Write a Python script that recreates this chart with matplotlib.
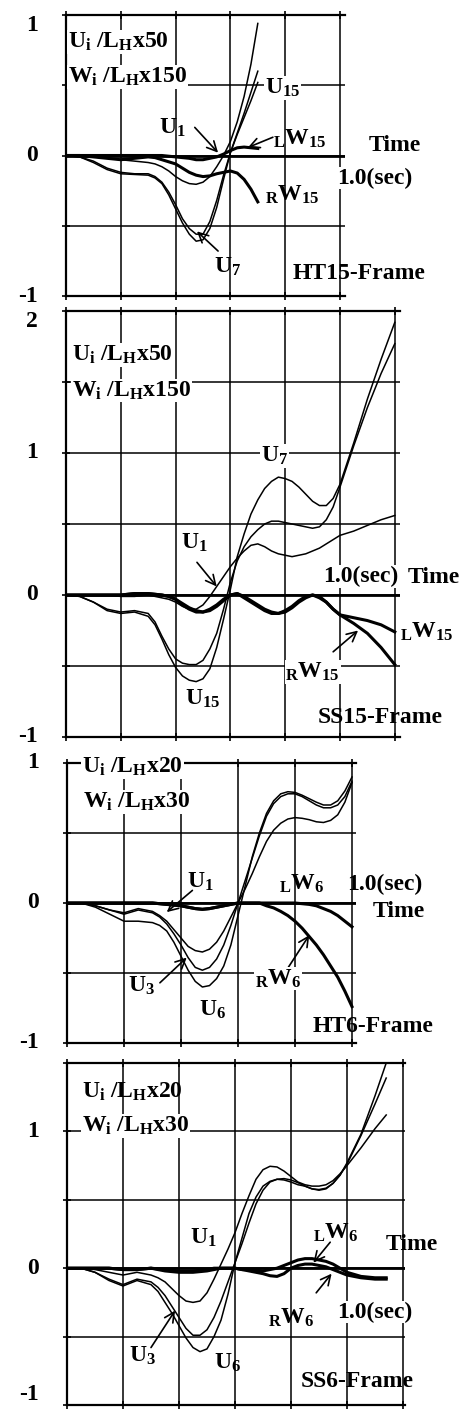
import matplotlib
matplotlib.use('Agg')
import matplotlib.pyplot as plt
import numpy as np

plt.rcParams['font.family'] = ['Liberation Serif', 'DejaVu Serif']
plt.rcParams['font.weight'] = 'bold'
plt.rcParams['mathtext.fontset'] = 'custom'
plt.rcParams['mathtext.rm'] = 'Liberation Serif:bold'
plt.rcParams['mathtext.bf'] = 'Liberation Serif:bold'
plt.rcParams['mathtext.it'] = 'Liberation Serif:bold'
plt.rcParams['mathtext.default'] = 'bf'

# ---- HT15-Frame ----
t_ht15 = [0, .05, .1, .15, .2, .25, .3, .325, .35, .375, .4, .425, .45, .475, .5, .525, .55, .575, .6, .625, .65, .675, .7]
u1_ht15 = [0, 0, -0.01, -0.02, -0.03, -0.04, -0.05, -0.06, -0.08, -0.11, -0.15, -0.18, -0.2, -0.205, -0.19, -0.15, -0.08, 0.0, 0.1, 0.24, 0.42, 0.65, 0.94]
u7_ht15 = [0, -0.01, -0.05, -0.1, -0.13, -0.135, -0.14, -0.16, -0.2, -0.28, -0.38, -0.48, -0.56, -0.61, -0.6, -0.52, -0.37, -0.17, 0.02, 0.15, 0.27, 0.39, 0.52]
u15_ht15 = [0, -0.01, -0.04, -0.09, -0.12, -0.13, -0.13, -0.15, -0.19, -0.26, -0.35, -0.45, -0.52, -0.56, -0.56, -0.47, -0.32, -0.14, 0.02, 0.16, 0.3, 0.45, 0.6]
lw15_ht15 = [0, 0, 0, 0, 0, 0, 0, 0, 0, -0.005, -0.01, -0.015, -0.02, -0.03, -0.03, -0.02, -0.01, 0.01, 0.035, 0.055, 0.06, 0.055, 0.05]
rw15_ht15 = [0, 0, -0.01, -0.02, -0.03, -0.02, -0.01, -0.015, -0.03, -0.045, -0.06, -0.09, -0.12, -0.14, -0.15, -0.145, -0.13, -0.12, -0.11, -0.125, -0.17, -0.24, -0.33]

# ---- SS15-Frame ----
t_ss15 = [0, .05, .1, .15, .2, .25, .3, .325, .35, .375, .4, .425, .45, .475, .5, .525, .55, .575, .6, .625,
          .65, .675, .7, .725, .75, .775, .8, .825, .85, .875, .9, .925, .95, .975, 1.0, 1.05, 1.1, 1.15, 1.2]
u1_ss15 = [0, 0, 0, 0, -0.01, -0.01, 0, -0.01, -0.02, -0.03, -0.05, -0.08, -0.1, -0.1, -0.07, -0.01, 0.06, 0.13, 0.2, 0.26,
           0.31, 0.35, 0.36, 0.34, 0.31, 0.29, 0.28, 0.27, 0.28, 0.29, 0.31, 0.33, 0.36, 0.39, 0.42, 0.45, 0.49, 0.53, 0.56]
u7_ss15 = [0, -0.01, -0.05, -0.1, -0.12, -0.11, -0.13, -0.19, -0.29, -0.38, -0.45, -0.48, -0.49, -0.49, -0.46, -0.38, -0.27, -0.1, 0.09, 0.24,
           0.34, 0.41, 0.46, 0.5, 0.52, 0.52, 0.51, 0.5, 0.49, 0.48, 0.47, 0.48, 0.53, 0.62, 0.76, 1.05, 1.32, 1.56, 1.77]
u15_ss15 = [0, -0.01, -0.05, -0.11, -0.13, -0.12, -0.15, -0.21, -0.31, -0.42, -0.51, -0.57, -0.6, -0.61, -0.59, -0.52, -0.37, -0.17, 0.04, 0.27,
            0.43, 0.57, 0.67, 0.75, 0.8, 0.83, 0.82, 0.8, 0.76, 0.71, 0.66, 0.63, 0.63, 0.68, 0.78, 1.07, 1.38, 1.66, 1.92]
lw15_ss15 = [0, 0, 0, 0, 0, 0.01, 0.01, 0.005, 0, -0.01, -0.03, -0.07, -0.1, -0.12, -0.12, -0.1, -0.07, -0.03, 0.0, 0.01,
             -0.01, -0.04, -0.07, -0.1, -0.12, -0.13, -0.12, -0.09, -0.05, -0.02, 0.0, -0.01, -0.05, -0.1, -0.14, -0.16, -0.18, -0.21, -0.26]
rw15_ss15 = [0, 0, 0, 0, 0, 0.01, 0.01, 0.005, 0, -0.01, -0.03, -0.06, -0.09, -0.11, -0.12, -0.11, -0.08, -0.04, 0.0, 0.01,
             -0.02, -0.05, -0.08, -0.11, -0.13, -0.13, -0.11, -0.08, -0.04, -0.01, 0.0, -0.02, -0.05, -0.1, -0.14, -0.2, -0.27, -0.37, -0.49]

# ---- HT6-Frame ----
t_ht6 = [0, .05, .1, .15, .2, .25, .3, .325, .35, .375, .4, .425, .45, .475, .5, .525, .55, .575,
         .6, .625, .65, .675, .7, .725, .75, .775, .8, .825, .85, .875, .9, .925, .95, .975, 1.0]
u1_ht6 = [0, 0, -0.02, -0.05, -0.07, -0.04, -0.06, -0.09, -0.13, -0.19, -0.25, -0.31, -0.34, -0.35, -0.33, -0.28, -0.2, -0.1,
          0.0, 0.1, 0.21, 0.33, 0.44, 0.52, 0.57, 0.6, 0.61, 0.605, 0.595, 0.58, 0.575, 0.59, 0.63, 0.72, 0.86]
u3_ht6 = [0, 0, -0.02, -0.05, -0.08, -0.05, -0.07, -0.1, -0.15, -0.22, -0.3, -0.39, -0.46, -0.48, -0.46, -0.4, -0.3, -0.16,
          0.0, 0.16, 0.32, 0.48, 0.62, 0.71, 0.76, 0.78, 0.78, 0.76, 0.73, 0.7, 0.68, 0.68, 0.7, 0.76, 0.87]
u6_ht6 = [0, 0, -0.03, -0.08, -0.13, -0.13, -0.14, -0.16, -0.2, -0.28, -0.38, -0.48, -0.56, -0.6, -0.59, -0.54, -0.45, -0.3,
          -0.09, 0.12, 0.33, 0.5, 0.64, 0.73, 0.78, 0.795, 0.79, 0.77, 0.745, 0.72, 0.7, 0.7, 0.73, 0.8, 0.9]
lw6_ht6 = [0, 0, 0, 0, 0, 0, 0, -0.005, -0.01, -0.015, -0.02, -0.03, -0.04, -0.045, -0.04, -0.03, -0.02, -0.01,
           0, 0, 0, 0, 0, 0, 0, 0, 0, -0.005, -0.01, -0.02, -0.04, -0.06, -0.09, -0.13, -0.17]
rw6_ht6 = [0, 0, 0, 0, 0, 0, 0, -0.005, -0.01, -0.015, -0.02, -0.03, -0.04, -0.045, -0.04, -0.03, -0.02, -0.01,
           0, 0, 0, 0, -0.02, -0.035, -0.06, -0.09, -0.13, -0.18, -0.24, -0.3, -0.37, -0.45, -0.53, -0.63, -0.74]

# ---- SS6-Frame ----
t_ss6 = [0, .05, .1, .15, .2, .25, .3, .325, .35, .375, .4, .425, .45, .475, .5, .525, .55, .575, .6,
         .625, .65, .675, .7, .725, .75, .775, .8, .825, .85, .875, .9, .925, .95, .975, 1.0, 1.05, 1.1, 1.14]
u1_ss6 = [0, 0, -0.01, -0.03, -0.05, -0.03, -0.05, -0.07, -0.1, -0.15, -0.2, -0.24, -0.25, -0.24, -0.18, -0.08, 0.03, 0.14, 0.26,
          0.4, 0.53, 0.65, 0.72, 0.745, 0.74, 0.71, 0.67, 0.63, 0.61, 0.6, 0.6, 0.61, 0.64, 0.69, 0.75, 0.88, 1.02, 1.12]
u3_ss6 = [0, 0, -0.03, -0.08, -0.12, -0.08, -0.1, -0.14, -0.2, -0.28, -0.36, -0.44, -0.49, -0.49, -0.45, -0.36, -0.24, -0.1, 0.04,
          0.18, 0.33, 0.47, 0.57, 0.63, 0.65, 0.655, 0.645, 0.625, 0.6, 0.58, 0.57, 0.58, 0.62, 0.68, 0.76, 0.97, 1.2, 1.39]
u6_ss6 = [0, 0, -0.03, -0.09, -0.13, -0.09, -0.12, -0.17, -0.25, -0.33, -0.42, -0.51, -0.58, -0.61, -0.59, -0.5, -0.38, -0.19, 0.04,
          0.22, 0.4, 0.52, 0.6, 0.635, 0.65, 0.645, 0.63, 0.61, 0.6, 0.58, 0.575, 0.585, 0.62, 0.68, 0.77, 0.98, 1.26, 1.5]
lw6_ss6 = [0, 0, 0, 0, -0.01, -0.01, 0, -0.005, -0.01, -0.015, -0.02, -0.02, -0.02, -0.015, -0.01, 0, 0, 0, 0,
           -0.01, -0.01, -0.015, -0.02, -0.01, 0.0, 0.02, 0.04, 0.06, 0.07, 0.07, 0.06, 0.05, 0.03, 0.0, -0.03, -0.06, -0.07, -0.07]
rw6_ss6 = [0, 0, 0, 0, -0.01, -0.01, 0, -0.01, -0.02, -0.025, -0.03, -0.03, -0.03, -0.025, -0.02, -0.01, 0, 0, 0,
           -0.01, -0.02, -0.03, -0.04, -0.055, -0.06, -0.04, 0, 0.02, 0.03, 0.03, 0.02, 0.01, -0.01, -0.03, -0.05, -0.07, -0.08, -0.08]

W, H = 471, 1410
fig = plt.figure(figsize=(W / 100, H / 100), dpi=100)
FS = 17


def add_panel(left, top, right, bottom):
    return fig.add_axes([left / W, 1 - bottom / H, (right - left) / W, (bottom - top) / H])


def frame(ax, tmax, xend, ylo, yhi, ylabels, top_va='center', bottom_va='center'):
    ax.set_xlim(0, xend)
    ax.set_ylim(ylo, yhi)
    ax.set_xticks(np.arange(0, tmax + 0.01, 0.2))
    ax.set_yticks(np.arange(ylo, yhi + 0.01, 0.5))
    ax.grid(True, color='black', lw=1.1)
    ax.set_axisbelow(True)
    ax.spines['right'].set_visible(False)
    for s in ['left', 'top', 'bottom']:
        ax.spines[s].set_linewidth(1.6)
    ax.tick_params(direction='inout', length=6, width=1.2, top=True,
                   labelbottom=False, labelleft=False)
    ax.axhline(0, color='black', lw=2.0, zorder=1)
    for v in ylabels:
        va = 'center'
        if v == yhi:
            va = top_va
        if v == ylo:
            va = bottom_va
        ax.annotate(str(v), xy=(0, v), xycoords=ax.get_yaxis_transform(),
                    xytext=(-28, 0), textcoords='offset pixels',
                    ha='right', va=va, fontsize=FS, annotation_clip=False)


def label(ax, x, y, s, bg=False, ha='center', fs=FS):
    kw = {}
    if bg:
        kw['bbox'] = dict(fc='white', ec='none', pad=0.5)
    ax.text(x, y, s, ha=ha, va='center', fontsize=fs, clip_on=False, zorder=5, **kw)


def arrow(ax, start, tip):
    ax.annotate('', xy=tip, xytext=start, annotation_clip=False,
                arrowprops=dict(arrowstyle='->,head_length=0.7,head_width=0.35',
                                lw=1.2, color='black', shrinkA=0, shrinkB=0))


def curves(ax, t, thin, thick):
    for v in thin:
        ax.plot(t, v, color='black', lw=1.1, zorder=2, solid_joinstyle='round')
    for v in thick:
        ax.plot(t, v, color='black', lw=2.2, zorder=2, solid_joinstyle='round')


# panel 1: HT15
ax1 = add_panel(66, 15, 345, 296)
frame(ax1, 1.0, 279 / 274, -1, 1, [1, 0, -1], top_va='top')
curves(ax1, t_ht15, [u1_ht15, u7_ht15, u15_ht15], [lw15_ht15, rw15_ht15])
label(ax1, 0.007, 0.81, r'U$_{i}$ /L$_{H}$x50', bg=True, ha='left')
label(ax1, 0.007, 0.56, r'W$_{i}$ /L$_{H}$x150', bg=True, ha='left')
label(ax1, 0.79, 0.48, r'U$_{15}$', bg=True)
label(ax1, 0.39, 0.2, r'U$_{1}$')
arrow(ax1, (0.47, 0.2), (0.555, 0.02))
label(ax1, 0.855, 0.12, r'$_{L}$W$_{15}$')
arrow(ax1, (0.755, 0.13), (0.664, 0.057))
label(ax1, 1.2, 0.07, 'Time')
label(ax1, 1.128, -0.16, '1.0(sec)', bg=True)
label(ax1, 0.825, -0.28, r'$_{R}$W$_{15}$')
label(ax1, 0.59, -0.79, r'U$_{7}$')
arrow(ax1, (0.555, -0.68), (0.478, -0.54))
label(ax1, 1.07, -0.84, 'HT15-Frame')

# panel 2: SS15
ax2 = add_panel(66, 311, 400, 737)
frame(ax2, 1.2, 334 / 274, -1, 2, [2, 1, 0, -1], top_va='top')
curves(ax2, t_ss15, [u1_ss15, u7_ss15, u15_ss15], [lw15_ss15, rw15_ss15])
label(ax2, 0.022, 1.69, r'U$_{i}$ /L$_{H}$x50', bg=True, ha='left')
label(ax2, 0.022, 1.44, r'W$_{i}$ /L$_{H}$x150', bg=True, ha='left')
label(ax2, 0.76, 0.98, r'U$_{7}$', bg=True)
label(ax2, 0.47, 0.37, r'U$_{1}$')
arrow(ax2, (0.478, 0.23), (0.55, 0.06))
label(ax2, 1.077, 0.13, '1.0(sec)', bg=True)
label(ax2, 1.343, 0.12, 'Time')
label(ax2, 1.317, -0.26, r'$_{L}$W$_{15}$')
label(ax2, 0.9, -0.54, r'$_{R}$W$_{15}$', bg=True)
arrow(ax2, (0.975, -0.4), (1.066, -0.25))
label(ax2, 0.5, -0.73, r'U$_{15}$')
label(ax2, 1.146, -0.86, 'SS15-Frame')

# panel 3: HT6
ax3 = add_panel(67, 763, 356, 1043)
frame(ax3, 1.0, 289 / 285, -1, 1, [1, 0, -1])
curves(ax3, t_ht6, [u1_ht6, u3_ht6, u6_ht6], [lw6_ht6, rw6_ht6])
label(ax3, 0.053, 0.97, r'U$_{i}$ /L$_{H}$x20', bg=True, ha='left')
label(ax3, 0.056, 0.72, r'W$_{i}$ /L$_{H}$x30', bg=True, ha='left')
label(ax3, 0.467, 0.15, r'U$_{1}$')
arrow(ax3, (0.44, 0.09), (0.35, -0.065))
label(ax3, 0.825, 0.135, r'$_{L}$W$_{6}$')
label(ax3, 1.116, 0.13, '1.0(sec)')
label(ax3, 1.165, -0.06, 'Time')
label(ax3, 0.263, -0.59, r'U$_{3}$', bg=True)
arrow(ax3, (0.326, -0.57), (0.42, -0.39))
label(ax3, 0.51, -0.76, r'U$_{6}$')
label(ax3, 0.74, -0.54, r'$_{R}$W$_{6}$', bg=True)
arrow(ax3, (0.77, -0.48), (0.85, -0.23))
label(ax3, 1.075, -0.88, 'HT6-Frame')

# panel 4: SS6
ax4 = add_panel(67, 1063, 405, 1405)
frame(ax4, 1.2, 338 / 280, -1, 1.5, [1, 0, -1], bottom_va='bottom')
curves(ax4, t_ss6, [u1_ss6, u3_ss6, u6_ss6], [lw6_ss6, rw6_ss6])
label(ax4, 0.054, 1.29, r'U$_{i}$ /L$_{H}$x20', ha='left')
label(ax4, 0.054, 1.04, r'W$_{i}$ /L$_{H}$x30', bg=True, ha='left')
label(ax4, 0.486, 0.22, r'U$_{1}$')
label(ax4, 0.96, 0.26, r'$_{L}$W$_{6}$')
arrow(ax4, (0.94, 0.19), (0.88, 0.04))
label(ax4, 1.232, 0.175, 'Time')
label(ax4, 0.8, -0.36, r'$_{R}$W$_{6}$')
arrow(ax4, (0.89, -0.18), (0.945, -0.04))
label(ax4, 1.1, -0.32, '1.0(sec)', bg=True)
label(ax4, 0.27, -0.64, r'U$_{3}$')
arrow(ax4, (0.3, -0.58), (0.386, -0.31))
label(ax4, 0.575, -0.69, r'U$_{6}$')
label(ax4, 1.035, -0.83, 'SS6-Frame')

fig.savefig('out.png', dpi=100)
